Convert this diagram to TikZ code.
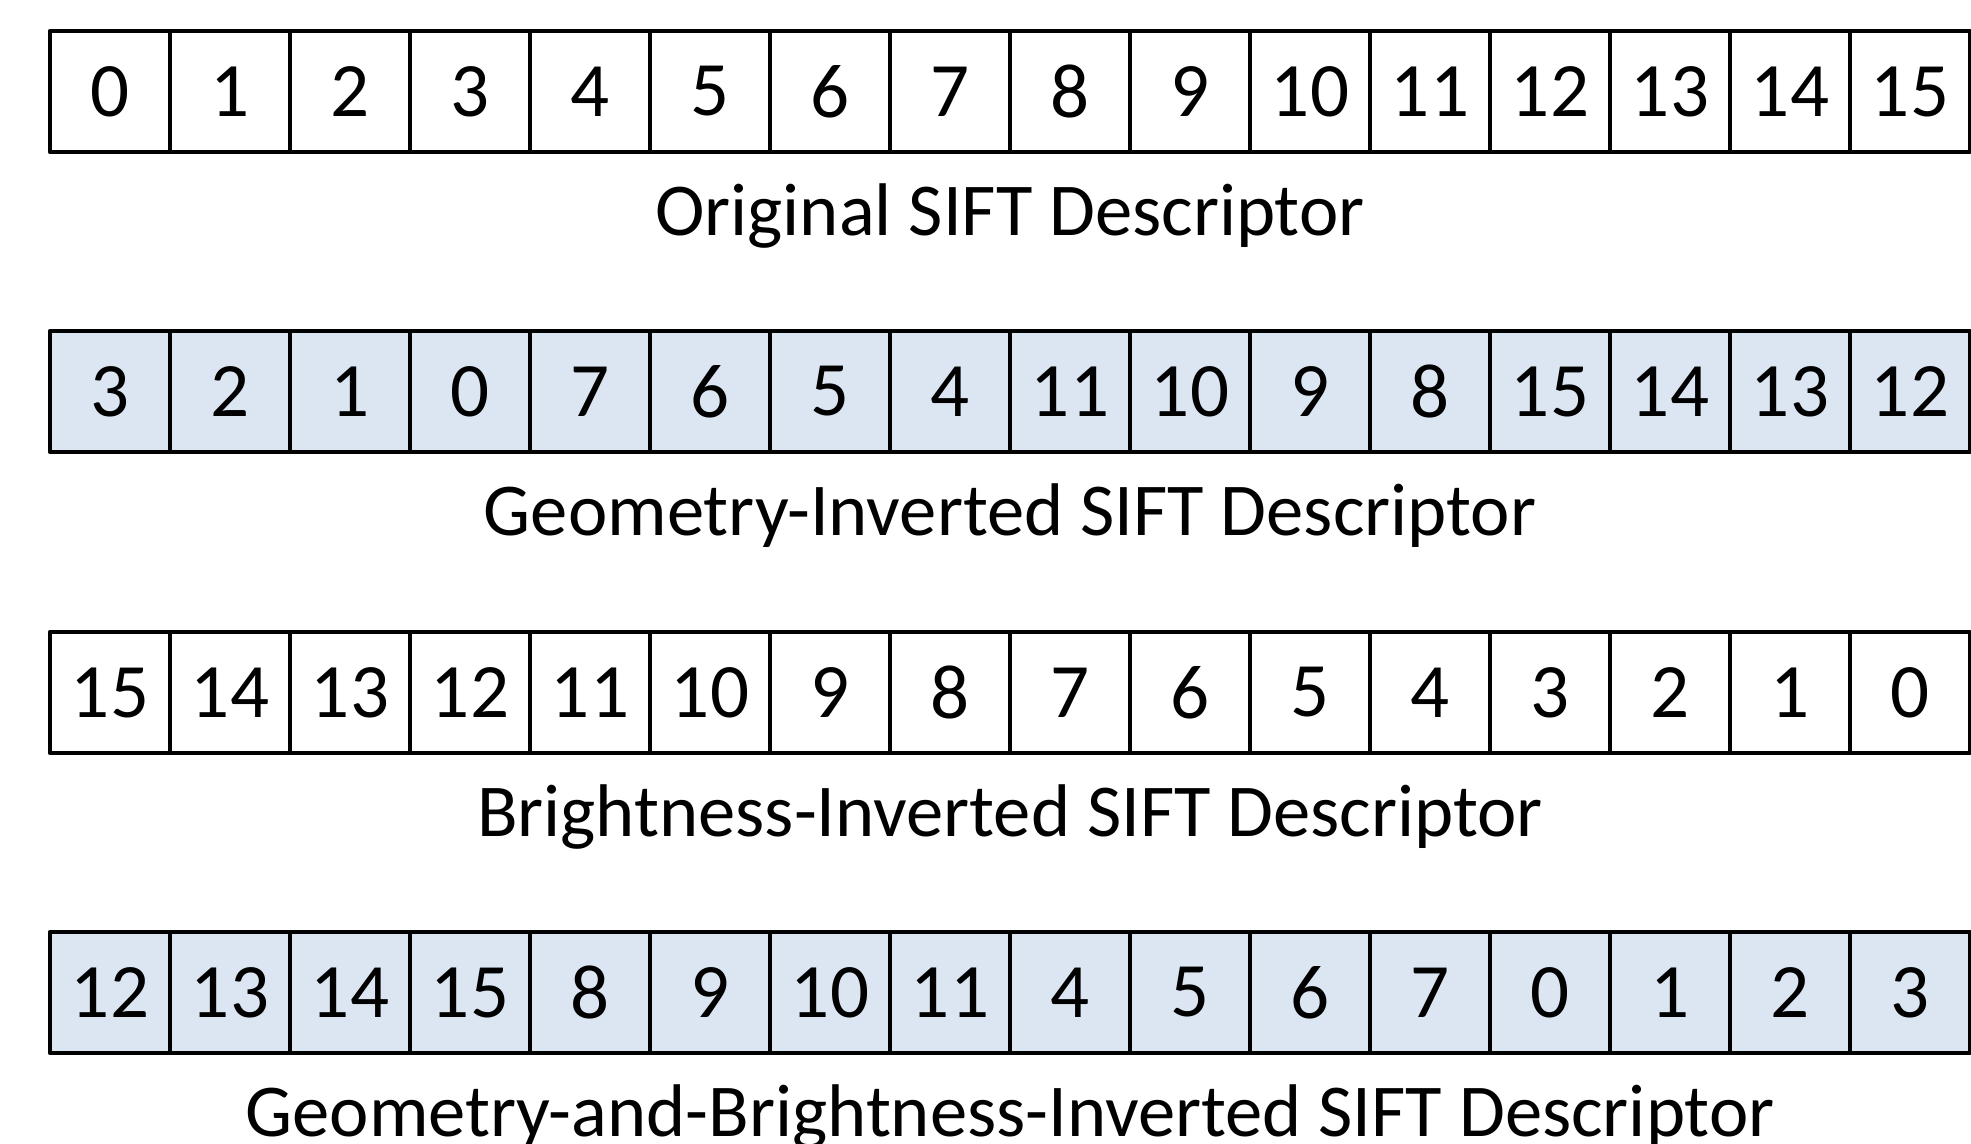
\documentclass[tikz,border=0pt]{standalone}
\usepackage{fontspec}
\setmainfont{Carlito}
\definecolor{cellblue}{HTML}{DCE6F2}
\begin{document}
\begin{tikzpicture}[x=0.5pt,y=-0.5pt,
  cellbox/.style={draw=black, line width=2.2pt, line join=round, minimum width=60pt, minimum height=60.5pt,
    inner sep=0pt, outer sep=0pt, anchor=north west, font=\fontsize{38.5}{40}\selectfont},
  bluecell/.style={cellbox, fill=cellblue},
  whitecell/.style={cellbox, fill=white},
  caption/.style={anchor=base, inner sep=0pt, font=\fontsize{37.3}{40}\selectfont}]
\useasboundingbox (0,0) rectangle (1971,1144);
\fill[white] (0,0) rectangle (1971,1144);
% row 1
\foreach \v [count=\i from 0] in {0,1,2,3,4,5,6,7,8,9,10,11,12,13,14,15}
  \node[whitecell] (a\i) at ({50+120*\i},31) {\v};
\node[caption] (capa) at (1010,236) {Original SIFT Descriptor};
% row 2
\foreach \v [count=\i from 0] in {3,2,1,0,7,6,5,4,11,10,9,8,15,14,13,12}
  \node[bluecell] (b\i) at ({50+120*\i},331) {\v};
\node[caption] (capb) at (1010,536) {Geometry-Inverted SIFT Descriptor};
% row 3
\foreach \v [count=\i from 0] in {15,14,13,12,11,10,9,8,7,6,5,4,3,2,1,0}
  \node[whitecell] (c\i) at ({50+120*\i},632) {\v};
\node[caption] (capc) at (1010,836) {Brightness-Inverted SIFT Descriptor};
% row 4
\foreach \v [count=\i from 0] in {12,13,14,15,8,9,10,11,4,5,6,7,0,1,2,3}
  \node[bluecell] (d\i) at ({50+120*\i},932) {\v};
\node[caption] (capd) at (1010,1136) {Geometry-and-Brightness-Inverted SIFT Descriptor};
\end{tikzpicture}
\end{document}
